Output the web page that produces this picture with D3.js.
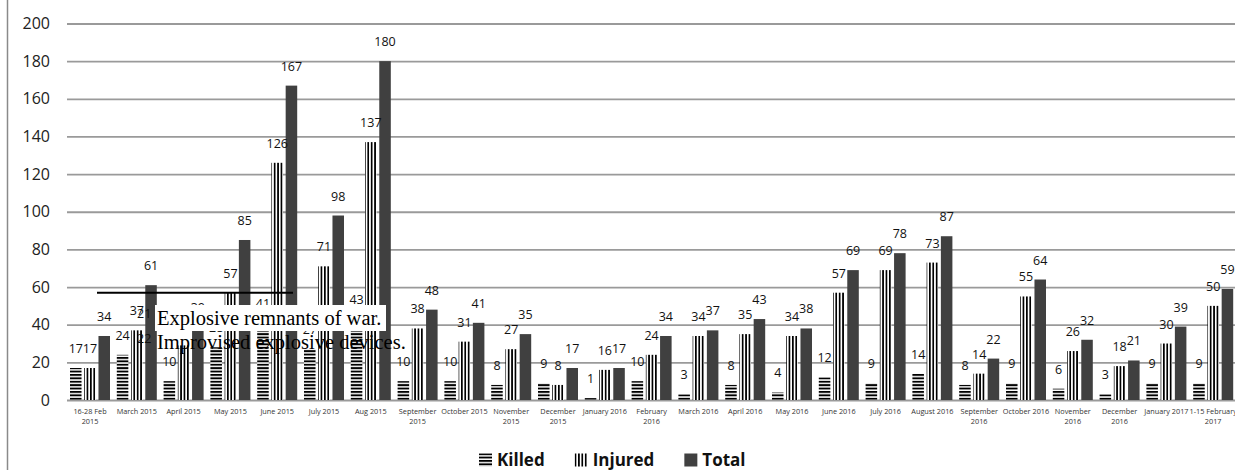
<!DOCTYPE html>
<html>
<head>
<meta charset="utf-8">
<script src="https://cdn.jsdelivr.net/npm/d3@7"></script>
<style>
  html, body { margin: 0; padding: 0; background: #fff; }
  svg { display: block; }
</style>
</head>
<body>
<svg id="chart" width="1235" height="470"></svg>
<script>
// Monthly casualties: killed, injured and total
const categories = [
  "16-28 Feb\n2015", "March 2015", "April 2015", "May 2015", "June 2015",
  "July 2015", "Aug 2015", "September\n2015", "October 2015", "November\n2015",
  "December\n2015", "January 2016", "February\n2016", "March 2016", "April 2016",
  "May 2016", "June 2016", "July 2016", "August 2016", "September\n2016",
  "October 2016", "November\n2016", "December\n2016", "January 2017", "1-15 February\n2017"
];
const killed  = [17, 24, 10, 28, 41, 27, 43, 10, 10, 8, 9, 1, 10, 3, 8, 4, 12, 9, 14, 8, 9, 6, 3, 9, 9];
const injured = [17, 37, 29, 57, 126, 71, 137, 38, 31, 27, 8, 16, 24, 34, 35, 34, 57, 69, 73, 14, 55, 26, 18, 30, 50];
const total   = [34, 61, 39, 85, 167, 98, 180, 48, 41, 35, 17, 17, 34, 37, 43, 38, 69, 78, 87, 22, 64, 32, 21, 39, 59];
const seriesNames = ["Killed", "Injured", "Total"];
const yTicks = [0, 20, 40, 60, 80, 100, 120, 140, 160, 180, 200];
const footnoteNumbers = ["21", "22"];
const footnoteTexts = ["Explosive remnants of war.", "Improvised explosive devices."];

const svg = d3.select("#chart");
const sansFont = "'Open Sans', 'Noto Sans', sans-serif";

// Fill patterns for the three series
const defs = svg.append("defs");
const hPat = defs.append("pattern").attr("id", "pat-killed")
  .attr("patternUnits", "userSpaceOnUse").attr("width", 8).attr("height", 3.4);
hPat.append("rect").attr("width", 8).attr("height", 3.4).attr("fill", "#fff");
hPat.append("rect").attr("width", 8).attr("height", 1.9).attr("fill", "#000");

const vPat = defs.append("pattern").attr("id", "pat-injured")
  .attr("patternUnits", "userSpaceOnUse").attr("width", 3.4).attr("height", 8);
vPat.append("rect").attr("width", 3.4).attr("height", 8).attr("fill", "#fff");
vPat.append("rect").attr("width", 1.7).attr("height", 8).attr("fill", "#000");

const fills = {
  Killed: "url(#pat-killed)",
  Injured: "url(#pat-injured)",
  Total: "#404040"
};
const seriesValues = { Killed: killed, Injured: injured, Total: total };

// Chart frame edge
svg.append("line")
  .attr("x1", 7.5).attr("x2", 7.5).attr("y1", 0).attr("y2", 470)
  .attr("stroke", "#8a8a8a").attr("stroke-width", 1.5);

// Scales
const y = d3.scaleLinear().domain([0, 200]).range([400, 23.5]);
const x0 = d3.scaleBand().domain(categories).range([66.6, 1236.6]).padding(0);
const x1 = d3.scaleBand().domain(seriesNames).range([-20, 20]).paddingInner(0.19);

// Horizontal gridlines + y axis labels
const yAxis = d3.axisLeft(y).tickValues(yTicks).tickSize(-(1235 - 67)).tickFormat(d3.format("d"));
const yg = svg.append("g").attr("transform", "translate(67,0)").call(yAxis);
yg.select(".domain").remove();
yg.selectAll(".tick line").attr("stroke", "#9a9a9a").attr("stroke-width", 1.8);
yg.selectAll(".tick text")
  .attr("x", -17)
  .attr("fill", "#222")
  .style("font-family", sansFont)
  .style("font-size", "16px");

// Category labels (wrapped onto two lines where needed)
const xAxis = d3.axisBottom(x0).tickSize(0).tickFormat("");
const xg = svg.append("g").attr("transform", "translate(0,400)").call(xAxis);
xg.select(".domain").remove();
xg.selectAll(".tick").each(function (d) {
  const lines = d.split("\n");
  const t = d3.select(this).append("text")
    .attr("text-anchor", "middle")
    .attr("fill", "#333")
    .style("font-family", sansFont)
    .style("font-size", "7.3px");
  lines.forEach((ln, i) => {
    t.append("tspan").attr("x", 0).attr("y", 14 + i * 10).text(ln);
  });
});

// Bars
const groups = svg.append("g").selectAll("g.grp")
  .data(categories)
  .join("g")
  .attr("class", "grp")
  .attr("transform", d => `translate(${x0(d) + x0.bandwidth() / 2},0)`);

groups.selectAll("rect")
  .data((d, i) => seriesNames.map(s => ({ s, v: seriesValues[s][i] })))
  .join("rect")
  .attr("x", d => x1(d.s))
  .attr("width", x1.bandwidth())
  .attr("y", d => y(d.v))
  .attr("height", d => y(0) - y(d.v))
  .attr("fill", d => fills[d.s]);

// Value labels
groups.selectAll("text.val")
  .data((d, i) => seriesNames.map(s => ({ s, v: seriesValues[s][i] })))
  .join("text")
  .attr("class", "val")
  .attr("x", d => x1(d.s) + x1.bandwidth() / 2)
  .attr("y", d => y(d.v) - 15)
  .attr("text-anchor", "middle")
  .attr("fill", "#111")
  .style("font-family", sansFont)
  .style("font-size", "12.5px")
  .text(d => d.v);

// Footnote block drawn over the plot
const fn = svg.append("g");
fn.append("line")
  .attr("x1", 97).attr("x2", 293).attr("y1", 292.7).attr("y2", 292.7)
  .attr("stroke", "#000").attr("stroke-width", 2);
fn.append("rect")
  .attr("x", 155).attr("y", 305).attr("width", 231).attr("height", 26)
  .attr("fill", "#fff");
footnoteNumbers.forEach((n, i) => {
  fn.append("text")
    .attr("x", 137).attr("y", 318 + i * 25)
    .attr("fill", "#111")
    .style("font-family", sansFont)
    .style("font-size", "12.5px")
    .text(n);
});
footnoteTexts.forEach((t, i) => {
  fn.append("text")
    .attr("x", 157).attr("y", 325 + i * 23.5)
    .attr("fill", "#000")
    .style("font-family", "'Liberation Serif', 'Times New Roman', serif")
    .style("font-size", "20.5px")
    .text(t);
});

// Legend
const legend = svg.append("g").attr("transform", "translate(479,460)");
let lx = 0;
seriesNames.forEach(s => {
  const item = legend.append("g").attr("transform", `translate(${lx},0)`);
  item.append("rect")
    .attr("x", 0).attr("y", -6.5).attr("width", 13).attr("height", 13)
    .attr("fill", fills[s]);
  const t = item.append("text")
    .attr("x", 18).attr("y", 6)
    .attr("fill", "#111")
    .style("font-family", sansFont)
    .style("font-size", "17px")
    .style("font-weight", "bold")
    .text(s);
  lx += 18 + t.node().getComputedTextLength() + 30;
});
</script>
</body>
</html>
